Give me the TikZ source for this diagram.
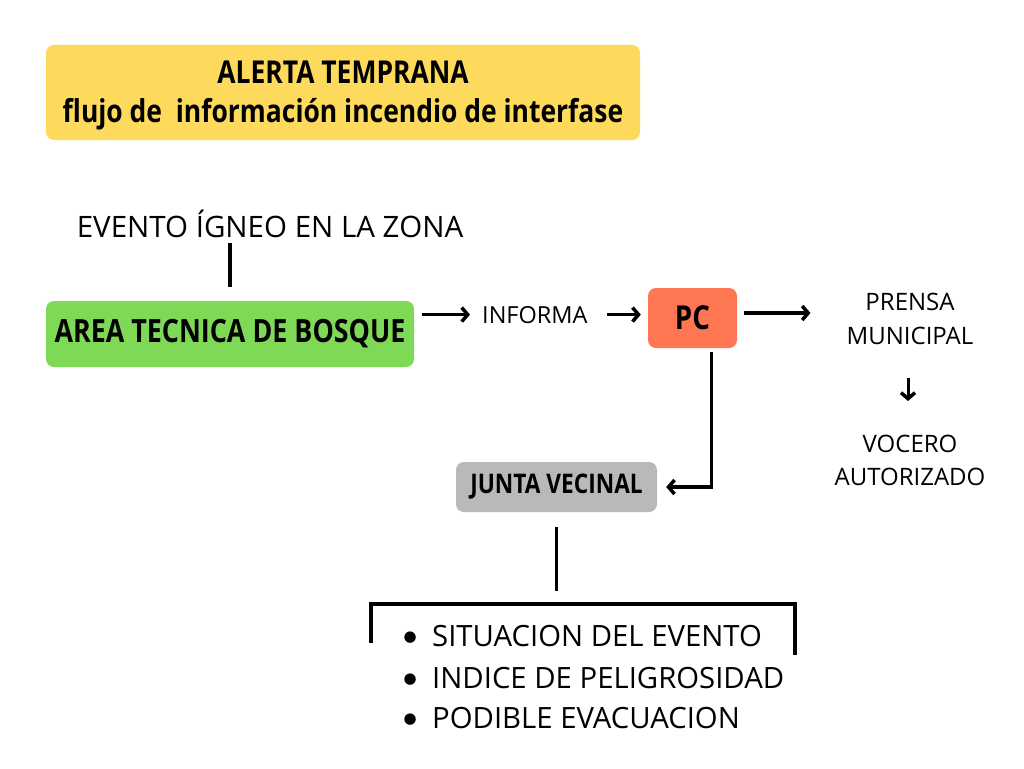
\documentclass[tikz,border=0pt]{standalone}
\usepackage{fontspec}
\usepackage{graphicx}
\setmainfont{Open Sans}
\newfontfamily\bcond{Open Sans}[FakeStretch=0.84]
\newfontfamily\dejavu{DejaVu Sans}
\usetikzlibrary{arrows.meta}
\definecolor{cyellow}{HTML}{FDD95C}
\definecolor{cgreen}{HTML}{7ED957}
\definecolor{ccoral}{HTML}{FE7652}
\definecolor{cgray}{HTML}{B9B9B9}
\newcommand{\fs}[2]{\fontsize{#1}{#2}\selectfont}
\newcommand{\bul}{\llap{\makebox[44pt][c]{\raisebox{5pt}{\dejavu\fontsize{15}{15}\selectfont ●}}}}
\tikzset{
  box/.style={rounded corners=8pt, inner sep=0pt, text=black},
  txt/.style={inner sep=0pt, text=black},
  conn/.style={line width=3.5pt, draw=black},
  arr/.style={conn, -{Straight Barb[length=6pt,width=14pt,line width=3.5pt]}},
}
\begin{document}
\begin{tikzpicture}[x=1pt,y=-1pt]
\useasboundingbox (0,0) rectangle (1024,768);
\fill[white] (0,0) rectangle (1024,768);
% title
\node[box, fill=cyellow, minimum width=594pt, minimum height=95pt] (title) at (343,92.5) {};
\node[txt, font=\bcond\bfseries\fs{31.5}{37}, anchor=base] (t1) at (343,83) {ALERTA TEMPRANA};
\node[txt, font=\bcond\bfseries\fs{31.5}{37}, anchor=base] (t2) at (343,122) {flujo de\ \ información incendio de interfase};
% evento
\node[txt, font=\fs{29.5}{35}, anchor=base] (evento) at (270,237) {EVENTO ÍGNEO EN LA ZONA};
% area
\node[box, fill=cgreen, minimum width=368pt, minimum height=66pt, font=\bcond\bfseries\fs{32}{38}] (area) at (230,334) {AREA TECNICA DE BOSQUE};
% informa
\node[txt, font=\fs{23.5}{28}, anchor=base west] (informa) at (482,323) {INFORMA};
% PC
\node[box, fill=ccoral, minimum width=89pt, minimum height=60pt, font=\bcond\bfseries\fs{33}{39}] (pc) at (692.5,318) {PC};
% prensa
\node[txt, font=\fs{24}{34}, align=center] (prensa) at (910,319) {PRENSA\\MUNICIPAL};
\node[txt, font=\fs{24}{33}, align=center] (vocero) at (910,460.5) {VOCERO\\AUTORIZADO};
% junta
\node[box, fill=cgray, minimum width=201pt, minimum height=50pt, font=\bcond\bfseries\fs{27}{32}] (junta) at (556.5,487) {JUNTA VECINAL};
% bracket
\coordinate (bl) at (371,643);
\coordinate (tl) at (371,604);
\coordinate (tr) at (795,604);
\coordinate (br) at (795,655);
\draw[conn] (bl) -- (tl) -- (tr) -- (br);
% items
\node[txt, font=\fs{29.3}{35}, anchor=base west] (i1) at (432,646) {\bul SITUACION DEL EVENTO};
\node[txt, font=\fs{29.3}{35}, anchor=base west] (i2) at (432,688) {\bul INDICE DE PELIGROSIDAD};
\node[txt, font=\fs{29.3}{35}, anchor=base west] (i3) at (432,728) {\bul PODIBLE EVACUACION};
% connectors
\draw[conn, shorten <=6pt, shorten >=14pt] (area.north |- evento.south) -- (area.north);
\draw[arr, shorten <=8pt, shorten >=12pt] (area.east |- informa.west) -- (informa.west);
\draw[arr, shorten <=19pt, shorten >=7pt] (informa.east) -- (informa.east -| pc.west);
\draw[arr, shorten <=7pt, shorten >=36pt] ([yshift=5pt]pc.east) -- ([yshift=5pt]pc.east -| prensa.west);
\draw[arr, line width=3pt, shorten <=33pt, shorten >=34pt] ([xshift=-2pt]prensa.south) -- ([xshift=-2pt]vocero.north);
\draw[arr, shorten <=4pt, shorten >=9pt] ([xshift=19pt]pc.south) |- (junta.east);
\draw[conn, shorten <=15pt, shorten >=13pt] (junta.south) -- (junta.south |- tl);
\end{tikzpicture}
\end{document}
